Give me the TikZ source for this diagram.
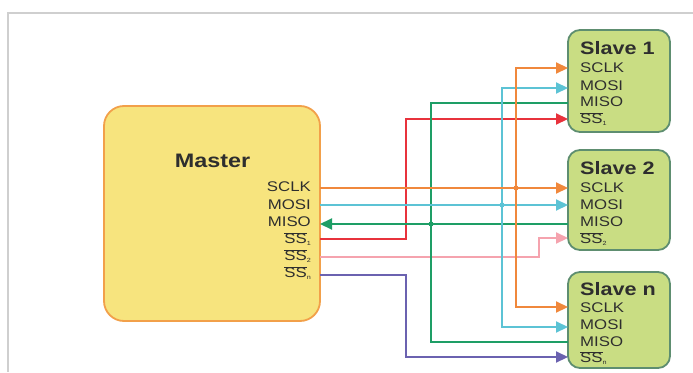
\documentclass[tikz,border=0pt]{standalone}
\usepackage{fontspec}
\setmainfont{Liberation Sans}[FakeStretch=1.2]
\usetikzlibrary{arrows.meta}
\definecolor{cOr}{HTML}{F0883C}
\definecolor{cCy}{HTML}{5CC3D5}
\definecolor{cGr}{HTML}{1E9E66}
\definecolor{cRd}{HTML}{E8323C}
\definecolor{cPk}{HTML}{F5A3AE}
\definecolor{cPu}{HTML}{6B62B0}
\definecolor{mfill}{HTML}{F7E47E}
\definecolor{mborder}{HTML}{F2A04A}
\definecolor{sfill}{HTML}{C9DD83}
\definecolor{sborder}{HTML}{5E8E70}
\definecolor{txt}{HTML}{2E2E2E}
\definecolor{frm}{HTML}{CFCFCF}
\newcommand\ssbar[1]{$\overline{\hbox{SS}}$\raisebox{-2pt}{\fontsize{6}{6}\selectfont #1}}
\tikzset{
  wire/.style={line width=2.1pt},
  sig/.style={wire,-{Triangle[length=12pt,width=11pt]}},
  mbox/.style={draw=mborder, fill=mfill, line width=1.8pt, rounded corners=20pt},
  sbox/.style={draw=sborder, fill=sfill, line width=1.8pt, rounded corners=12pt},
  lab/.style={font=\fontsize{14}{14}\selectfont, text=txt, inner sep=0pt},
  ttl/.style={font=\bfseries\fontsize{19.5}{19.5}\selectfont, text=txt, inner sep=0pt},
  stl/.style={font=\bfseries\fontsize{18}{18}\selectfont, text=txt, inner sep=0pt},
  jdot/.style={circle, fill, inner sep=0pt, minimum size=5pt},
  frame/.style={draw=frm, line width=1.5pt}
}
\begin{document}
\begin{tikzpicture}[x=1pt,y=-1pt]
\useasboundingbox (0,0) rectangle (693,372);
\draw[frame] (693,13) -- (8,13) -- (8,372);
% boxes
\node[mbox, minimum width=216pt, minimum height=215pt] (master) at (212,213.5) {};
\node[sbox, minimum width=102pt, minimum height=102pt] (slave1) at (619,81) {};
\node[sbox, minimum width=102pt, minimum height=100pt] (slave2) at (619,200) {};
\node[sbox, minimum width=102pt, minimum height=96pt] (slaven) at (619,320) {};
% master texts
\node[ttl] (mt) at (212.5,161) {Master};
\node[lab, anchor=east] (ml1) at (311,187) {SCLK};
\node[lab, anchor=east] (ml2) at (311,204.5) {MOSI};
\node[lab, anchor=east] (ml3) at (311,222) {MISO};
\node[lab, anchor=east] (ml4) at (311,239) {\ssbar{1}};
\node[lab, anchor=east] (ml5) at (311,256) {\ssbar{2}};
\node[lab, anchor=east] (ml6) at (311,273) {\ssbar{n}};
% slave texts
\node[stl, anchor=west] (at) at (580,48) {Slave 1};
\node[lab, anchor=west] (al1) at (580,68) {SCLK};
\node[lab, anchor=west] (al2) at (580,85.5) {MOSI};
\node[lab, anchor=west] (al3) at (580,102) {MISO};
\node[lab, anchor=west] (al4) at (580,119) {\ssbar{1}};
\node[stl, anchor=west] (bt) at (580,168) {Slave 2};
\node[lab, anchor=west] (bl1) at (580,188) {SCLK};
\node[lab, anchor=west] (bl2) at (580,205) {MOSI};
\node[lab, anchor=west] (bl3) at (580,222) {MISO};
\node[lab, anchor=west] (bl4) at (580,239) {\ssbar{2}};
\node[stl, anchor=west] (ct) at (580,289) {Slave n};
\node[lab, anchor=west] (cl1) at (580,308) {SCLK};
\node[lab, anchor=west] (cl2) at (580,325) {MOSI};
\node[lab, anchor=west] (cl3) at (580,342) {MISO};
\node[lab, anchor=west] (cl4) at (580,358) {\ssbar{n}};
% pins
\coordinate (mSCLK) at (320,188);
\coordinate (mMOSI) at (320,205);
\coordinate (mMISO) at (320,224);
\coordinate (mSS1) at (320,239);
\coordinate (mSS2) at (320,257);
\coordinate (mSSn) at (320,275);
\coordinate (aSCLK) at (568,68);
\coordinate (aMOSI) at (568,88);
\coordinate (aMISO) at (568,103);
\coordinate (aSS) at (568,119);
\coordinate (bSCLK) at (568,188);
\coordinate (bMOSI) at (568,205);
\coordinate (bMISO) at (568,224);
\coordinate (bSS) at (568,238);
\coordinate (cSCLK) at (568,307);
\coordinate (cMOSI) at (568,327);
\coordinate (cMISO) at (568,342);
\coordinate (cSS) at (568,357);
\coordinate (jSCLK) at (516,188);
\coordinate (jMOSI) at (502,205);
\coordinate (jMISO) at (431,224);
% wires
\draw[sig, cRd] (mSS1) -- ++(86,0) |- (aSS);
\draw[sig, cPu] (mSSn) -- ++(86,0) |- (cSS);
\draw[sig, cPk] (mSS2) -- ++(219,0) |- (bSS);
\draw[wire, cGr] (aMISO) -| (jMISO);
\draw[wire, cGr] (cMISO) -| (jMISO);
\draw[sig, cGr] (bMISO) -- (mMISO);
\draw[sig, cCy] (jMOSI) |- (aMOSI);
\draw[sig, cCy] (jMOSI) |- (cMOSI);
\draw[sig, cCy] (mMOSI) -- (bMOSI);
\draw[sig, cOr] (jSCLK) |- (aSCLK);
\draw[sig, cOr] (jSCLK) |- (cSCLK);
\draw[sig, cOr] (mSCLK) -- (bSCLK);
\node[jdot, cOr] (dSCLK) at (jSCLK) {};
\node[jdot, cCy] (dMOSI) at (jMOSI) {};
\node[jdot, cGr] (dMISO) at (jMISO) {};
\end{tikzpicture}
\end{document}
